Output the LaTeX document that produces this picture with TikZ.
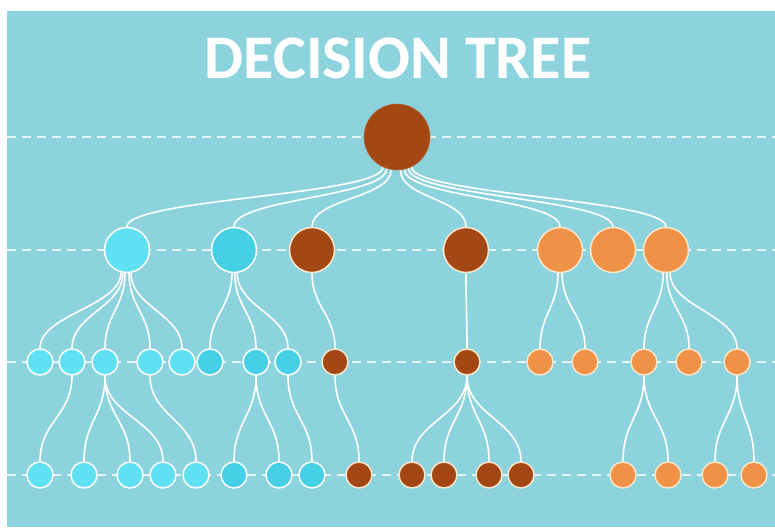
\documentclass[tikz,border=0pt]{standalone}
\usepackage{fontspec}
\usepackage{tikz}
\usepackage{xcolor}
\usetikzlibrary{backgrounds}
\newfontfamily\titlefont{Carlito}
\definecolor{cBack}{RGB}{141,211,221}
\definecolor{cGuide}{RGB}{228,244,247}
\definecolor{cCyanL}{RGB}{96,224,243}
\definecolor{cCyanD}{RGB}{70,208,230}
\definecolor{cBrown}{RGB}{163,72,20}
\definecolor{cOrange}{RGB}{240,145,72}
\definecolor{cCream}{RGB}{248,232,205}
\tikzset{
	title/.style    ={text=white, font=\titlefont\bfseries\fontsize{62}{62}\selectfont, inner sep=0pt},
	guide/.style    ={draw=cGuide, line width=1.6pt, dash pattern=on 9pt off 6pt},
	branch/.style   ={draw=white, line width=1.6pt},
	% tree nodes
	knot/.style     ={circle, inner sep=0pt, line width=1.5pt},
	rootknot/.style ={knot, minimum size=66pt, fill=cBrown, draw=cBrown!80!cCream, line width=0.6pt},
	bigknot/.style  ={knot, minimum size=45pt},
	smallknot/.style={knot, minimum size=26pt},
	cyl/.style      ={fill=cCyanL, draw=white},
	cyd/.style      ={fill=cCyanD, draw=white},
	brn/.style      ={fill=cBrown, draw=cCream},
	org/.style      ={fill=cOrange, draw=cCream},
}

\begin{document}
\begin{tikzpicture}[x=1pt, y=1pt]
	\useasboundingbox (0,0) rectangle (775,-527);
	\node[title] (title) at (398,-58) {DECISION TREE};
	% root
	\node[rootknot] (root) at (397,-137) {};
	% first level
	\node[bigknot, cyl] (c1) at (127,-250) {};
	\node[bigknot, cyd] (c2) at (234,-250) {};
	\node[bigknot, brn] (b1) at (312,-250) {};
	\node[bigknot, brn] (b2) at (466,-250) {};
	\node[bigknot, org] (o1) at (560,-250) {};
	\node[bigknot, org] (o2) at (613,-250) {};
	\node[bigknot, org] (o3) at (666,-250) {};
	% second level
	\foreach \n/\x in {p1/40, p2/72, p3/105, p4/150, p5/182}
		\node[smallknot, cyl] (\n) at (\x,-362) {};
	\foreach \n/\x in {p6/210, p7/256, p8/288}
		\node[smallknot, cyd] (\n) at (\x,-362) {};
	\foreach \n/\x in {p9/335, p10/467}
		\node[smallknot, brn] (\n) at (\x,-362) {};
	\foreach \n/\x in {p11/540, p12/585, p13/644, p14/689, p15/737}
		\node[smallknot, org] (\n) at (\x,-362) {};
	% third level
	\foreach \n/\x in {q1/40, q2/84, q3/130, q4/163, q5/196}
		\node[smallknot, cyl] (\n) at (\x,-475) {};
	\foreach \n/\x in {q6/234, q7/279, q8/312}
		\node[smallknot, cyd] (\n) at (\x,-475) {};
	\foreach \n/\x in {q9/359, q10/412, q11/444, q12/489, q13/521}
		\node[smallknot, brn] (\n) at (\x,-475) {};
	\foreach \n/\x in {q14/623, q15/668, q16/715, q17/754}
		\node[smallknot, org] (\n) at (\x,-475) {};
	\begin{scope}[on background layer]
		\fill[cBack] (7,-11) rectangle (775,-527);
		\foreach \y in {137, 250, 362, 475}
			\draw[guide] (7,-\y) -- (775,-\y);
		% branches
		\foreach \c/\a in {c1/-115, c2/-108, b1/-100, b2/-84, o1/-77, o2/-70, o3/-64}
			\draw[branch] (root.\a) to[out=-90, in=90, distance=28pt] (\c.north);
		\foreach \a/\b/\s in {c1/p1/-105, c1/p2/-100, c1/p3/-95, c1/p4/-85, c1/p5/-80, c2/p6/-95, c2/p7/-88, c2/p8/-82, b1/p9/-90, b2/p10/-90, o1/p11/-95, o1/p12/-85, o3/p13/-97, o3/p14/-88, o3/p15/-80}
			\draw[branch] (\a.\s) to[out=-90, in=90, distance=34pt] (\b.north);
		\foreach \a/\b in {p2/q1, p3/q2, p3/q3, p3/q4, p4/q5, p7/q6, p7/q7, p8/q8, p9/q9, p10/q10, p10/q11, p10/q12, p10/q13, p13/q14, p13/q15, p15/q16, p15/q17}
			\draw[branch] (\a.south) to[out=-90, in=90, distance=40pt] (\b.north);
	\end{scope}
\end{tikzpicture}
\end{document}
